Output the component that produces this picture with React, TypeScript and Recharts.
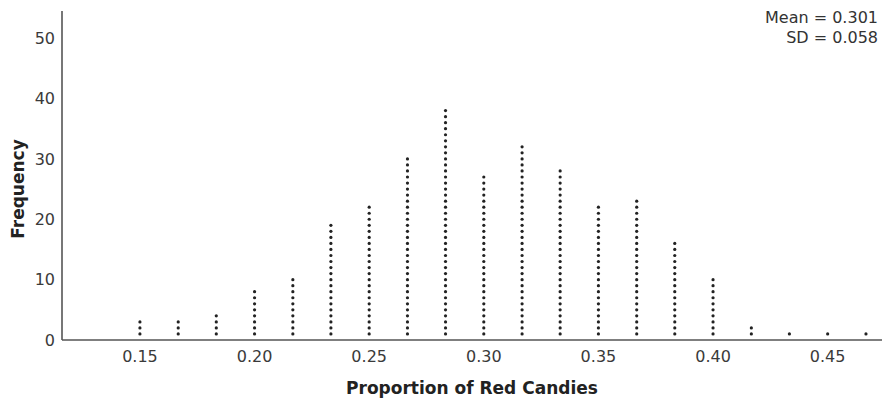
import { ScatterChart, Scatter, XAxis, YAxis } from 'recharts';

const proportions = [
  0.15, 0.1667, 0.1833, 0.2, 0.2167, 0.2333, 0.25, 0.2667, 0.2833, 0.3,
  0.3167, 0.3333, 0.35, 0.3667, 0.3833, 0.4, 0.4167, 0.4333, 0.45, 0.4667,
];
const counts = [3, 3, 4, 8, 10, 19, 22, 30, 38, 27, 32, 28, 22, 23, 16, 10, 2, 1, 1, 1];
const xTicks = [0.15, 0.2, 0.25, 0.3, 0.35, 0.4, 0.45];
const yTicks = [0, 10, 20, 30, 40, 50];
const stats = ['Mean = 0.301', 'SD = 0.058'];

const FONT = '"DejaVu Sans", sans-serif';

// one dot per sample, stacked up each column
const dots = proportions.flatMap((p, i) =>
  Array.from({ length: counts[i] }, (_, k) => ({ x: p, y: k + 1 }))
);

const Dot = (props: any) => <circle cx={props.cx} cy={props.cy} r={1.6} fill="#222" />;

export default function App() {
  return (
    <div style={{ position: 'absolute', left: 0, top: 0, width: 882, height: 398, fontFamily: FONT }}>
      <ScatterChart width={882} height={398} margin={{ top: 11, right: 0, bottom: 0, left: 0 }}>
        <XAxis
          type="number"
          dataKey="x"
          domain={[0.116, 0.4737]}
          ticks={xTicks}
          tickFormatter={(v: number) => v.toFixed(2)}
          allowDataOverflow
          height={58}
          tickLine={false}
          tickSize={6}
          tickMargin={5}
          axisLine={{ stroke: '#555', strokeWidth: 1.6 }}
          tick={{ fill: '#3a3a3a', fontSize: 16, fontFamily: FONT }}
          label={{
            content: (p: any) => (
              <text
                x={p.viewBox.x + p.viewBox.width / 2}
                y={p.viewBox.y + 54}
                textAnchor="middle"
                fontFamily={FONT}
                fontWeight="bold"
                fontSize={17}
                fill="#222"
              >
                Proportion of Red Candies
              </text>
            ),
          }}
        />
        <YAxis
          type="number"
          dataKey="y"
          domain={[0, 54.5]}
          ticks={yTicks}
          allowDataOverflow
          width={62}
          tickLine={false}
          tickSize={6}
          tickMargin={1}
          axisLine={{ stroke: '#555', strokeWidth: 1.6 }}
          tick={{ fill: '#3a3a3a', fontSize: 16, fontFamily: FONT }}
          label={{
            content: () => (
              <text
                x={18}
                y={189}
                transform="rotate(-90 18 189)"
                textAnchor="middle"
                dominantBaseline="central"
                fontFamily={FONT}
                fontWeight="bold"
                fontSize={17}
                fill="#222"
              >
                Frequency
              </text>
            ),
          }}
        />
        <Scatter data={dots} shape={Dot} isAnimationActive={false} />
      </ScatterChart>
      <div
        style={{
          position: 'absolute',
          right: 4,
          top: 8,
          textAlign: 'right',
          fontSize: 16,
          lineHeight: '20px',
          color: '#333',
        }}
      >
        {stats.map((s) => (
          <div key={s}>{s}</div>
        ))}
      </div>
    </div>
  );
}
